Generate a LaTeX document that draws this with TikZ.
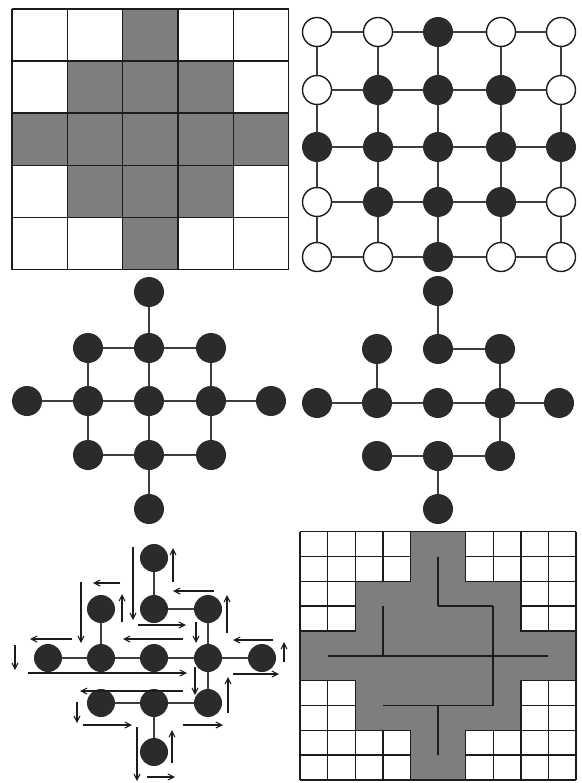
\documentclass[tikz,border=0pt]{standalone}
\usepackage{tikz}
\usetikzlibrary{arrows.meta}
\definecolor{ink}{HTML}{1C1C1C}
\definecolor{areagray}{HTML}{7E7E7E}
\definecolor{dotgray}{HTML}{2B2B2B}
\newcommand\treeedges{0-2/1-2,1-2/1-3,1-3/2-3,1-1/2-1,2-0/2-1,2-1/2-2,2-2/2-3,2-3/2-4,2-3/3-3,3-1/3-2,3-2/3-3,3-2/4-2}
\tikzset{
  >={Straight Barb[length=6pt,width=6pt]},
  cell/.style={draw=ink,line width=1.4pt},
  area/.style={fill=areagray},
  dot/.style={circle,fill=dotgray,minimum size=30pt,inner sep=0pt},
  sdot/.style={dot,minimum size=28pt},
  ring/.style={circle,draw=ink,line width=1.4pt,fill=white,minimum size=29pt,inner sep=0pt},
  link/.style={draw=ink!85,line width=1.1pt},
  treeline/.style={draw=ink,line width=1.5pt},
  arr/.style={->,draw=ink,line width=1.1pt},
}
\begin{document}
\begin{tikzpicture}[x=1pt,y=-1pt]
\useasboundingbox (0,0) rectangle (581,783);

% cells of the coarse grid
\begin{scope}[shift={(12,9)},x=55.3pt,y=-52.1pt]
  \fill[area] (2,0) -| (3,1) -| (4,2) -| (5,3) -| (4,4) -| (3,5) -| (2,4) -| (1,3) -| (0,2) -| (1,1) -| (2,0) -- cycle;
  \foreach \i in {0,...,5} {
    \draw[cell] (\i,0) -- (\i,5);
    \draw[cell] (0,\i) -- (5,\i);
  }
\end{scope}

% grid graph, free cells filled
\foreach \px [count=\c from 0] in {317,378,438,501,561} {
  \foreach \py [count=\r from 0] in {32,90,147,202,257} {
    \pgfmathtruncatemacro\d{abs(\r-2)+abs(\c-2)}
    \ifnum\d<3 \node[dot] (g-\r-\c) at (\px,\py) {};
    \else \node[ring] (g-\r-\c) at (\px,\py) {};
    \fi
  }
}
\foreach \r in {0,...,4} {
  \foreach \c in {0,...,3} {
    \pgfmathtruncatemacro\n{\c+1}
    \draw[link] (g-\r-\c) -- (g-\r-\n);
    \draw[link] (g-\c-\r) -- (g-\n-\r);
  }
}

% free cells only
\foreach \px [count=\c from 0] in {27,88,149,211,271} {
  \foreach \py [count=\r from 0] in {292,348,401,455,509} {
    \pgfmathtruncatemacro\d{abs(\r-2)+abs(\c-2)}
    \ifnum\d<3 \node[dot] (m-\r-\c) at (\px,\py) {}; \fi
  }
}
\foreach \a/\b in {0-2/1-2,1-1/1-2,1-2/1-3,1-1/2-1,1-2/2-2,1-3/2-3,2-0/2-1,2-1/2-2,2-2/2-3,2-3/2-4,2-1/3-1,2-2/3-2,2-3/3-3,3-1/3-2,3-2/3-3,3-2/4-2} {
  \draw[link] (m-\a) -- (m-\b);
}

% spanning tree
\foreach \px [count=\c from 0] in {317,377,438,500,559} {
  \foreach \py [count=\r from 0] in {291,349,403,456,509} {
    \pgfmathtruncatemacro\d{abs(\r-2)+abs(\c-2)}
    \ifnum\d<3 \node[dot] (t-\r-\c) at (\px,\py) {}; \fi
  }
}
\foreach \a/\b in \treeedges {
  \draw[link] (t-\a) -- (t-\b);
}

% tour round the tree
\foreach \px [count=\c from 0] in {48,101,154,208,262} {
  \foreach \py [count=\r from 0] in {558,609,658,703,752} {
    \pgfmathtruncatemacro\d{abs(\r-2)+abs(\c-2)}
    \ifnum\d<3 \node[sdot] (e-\r-\c) at (\px,\py) {}; \fi
  }
}
\foreach \a/\b in \treeedges {
  \draw[link] (e-\a) -- (e-\b);
}
\foreach \xa/\ya/\xb/\yb in {133/547/133/620, 173/582/173/548, 214/591/173/591,
    138/625/186/625, 227/633/227/595, 196/622/196/643, 183/639/123/639,
    120/583/93/583, 81/582/81/643, 122/622/122/594, 72/639/30/639,
    15/645/15/670, 28/673/187/673, 273/640/233/640, 284/662/284/642,
    233/674/279/674, 228/713/228/677, 195/667/195/695, 183/691/80/691,
    77/702/77/723, 83/725/132/725, 183/725/223/725, 137/727/137/781,
    172/763/172/730, 147/777/175/777} {
  \draw[arr] (\xa,\ya) -- (\xb,\yb);
}

% fine grid with the tree through the cell centres
\begin{scope}[shift={(300,531.7)},x=27.6pt,y=-24.83pt]
  \foreach \i in {0,...,10} {
    \draw[cell] (\i,0) -- (\i,10);
    \draw[cell] (0,\i) -- (10,\i);
  }
  \fill[area,cell] (4,0) -| (6,2) -| (8,4) -| (10,6) -| (8,8) -| (6,10) -| (4,8) -| (2,6) -| (0,4) -| (2,2) -| (4,0) -- cycle;
  \foreach \r in {0,...,4} {
    \foreach \c in {0,...,4} {
      \coordinate (f-\r-\c) at (2*\c+1,2*\r+1);
    }
  }
  \foreach \a/\b in \treeedges {
    \draw[treeline] (f-\a) -- (f-\b);
  }
\end{scope}
\end{tikzpicture}
\end{document}
